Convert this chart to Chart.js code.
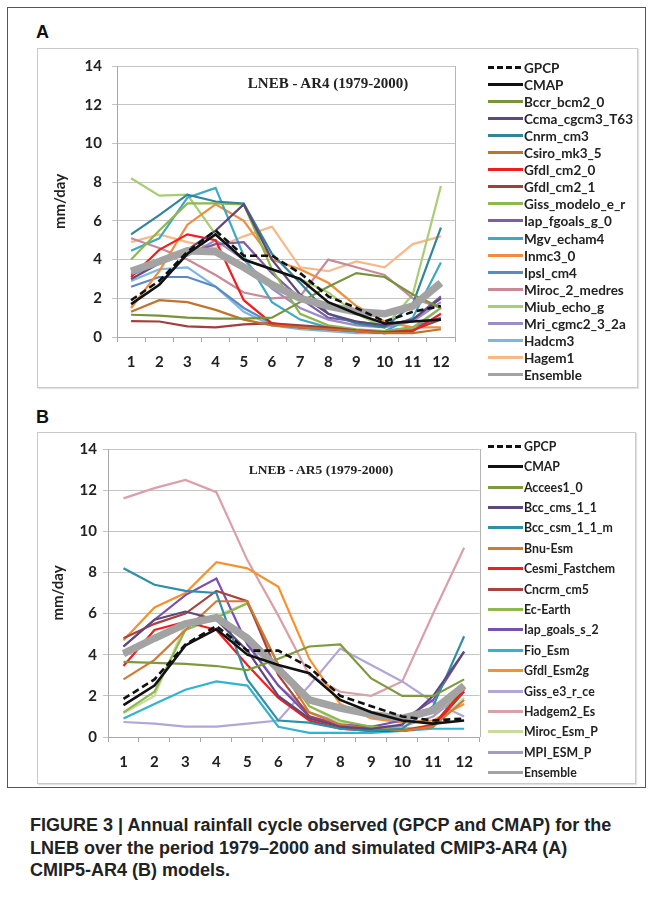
<!DOCTYPE html>
<html>
<head>
<meta charset="utf-8">
<script src="https://cdn.jsdelivr.net/npm/chart.js@4/dist/chart.umd.min.js"></script>
<style>
  html, body { margin: 0; padding: 0; background: #fff; }
  body { width: 654px; height: 901px; position: relative; overflow: hidden; font-family: Lato, "Open Sans", sans-serif; }
  .abs { position: absolute; }
  .outer { left: 7px; top: 7px; width: 639px; height: 781px; border: 1px solid #555; box-sizing: border-box; }
  .frame { border: 1px solid #c9c9c9; box-sizing: border-box; box-shadow: 1px 1px 1px #e2e2e2; }
  .plabel { font-family: "Liberation Sans", Arial, sans-serif; font-weight: bold; font-size: 18px; color: #111; }
  .ptitle { font-family: "Liberation Serif", "Times New Roman", serif; font-weight: bold; color: #222; white-space: nowrap; transform: translate(-50%, -50%); }
  .leg { font-family: Lato, sans-serif; font-weight: bold; color: #222; white-space: nowrap; }
  .leg .item { position: absolute; left: 0; height: 16px; line-height: 16px; }
  .leg .sample { position: absolute; left: 0; top: 6px; width: 35px; height: 3px; }
  .leg .txt { position: absolute; left: 36px; top: 0; }
  .caption { left: 30px; top: 814px; font-family: "Liberation Sans Narrow", "Liberation Sans", Arial, sans-serif; font-weight: bold; font-size: 18px; line-height: 22.5px; color: #222; white-space: nowrap; }
  canvas { position: absolute; }
</style>
</head>
<body>
<div class="abs outer"></div>

<div class="abs plabel" style="left:36px; top:22px;">A</div>
<div class="abs frame" style="left:37px; top:48px; width:601px; height:340px;"></div>
<canvas id="chartA" width="433" height="340" style="left:37px; top:47px;"></canvas>
<div class="abs ptitle" style="left:328px; top:83px; font-size:15px;">LNEB - AR4 (1979-2000)</div>
<div class="abs leg" id="legA" style="left:488px; top:0px; font-size:13.5px;"></div>

<div class="abs plabel" style="left:36px; top:407px;">B</div>
<div class="abs frame" style="left:37px; top:432px; width:599px; height:352px;"></div>
<canvas id="chartB" width="447" height="350" style="left:37px; top:433px;"></canvas>
<div class="abs ptitle" style="left:321px; top:470px; font-size:13.5px;">LNEB - AR5 (1979-2000)</div>
<div class="abs leg" id="legB" style="left:488px; top:0px; font-size:12.3px;"></div>

<div class="abs caption">FIGURE 3 | Annual rainfall cycle observed (GPCP and CMAP) for the<br>LNEB over the period 1979–2000 and simulated CMIP3-AR4 (A)<br>CMIP5-AR4 (B) models.</div>

<script>
// ---------- shared ----------
const months = ['1','2','3','4','5','6','7','8','9','10','11','12'];
const yTicks = [0, 2, 4, 6, 8, 10, 12, 14];

// ---------- Panel A: CMIP3-AR4 (mm/day) ----------
const gpcpA    = [1.9, 2.9, 4.4, 5.5, 4.2, 4.2, 3.3, 2.1, 1.5, 0.8, 1.3, 1.6];
const cmapA    = [1.7, 2.7, 4.3, 5.3, 4.0, 3.5, 3.0, 1.8, 1.2, 0.7, 0.8, 0.9];
const bccrA    = [1.15, 1.1, 1.0, 0.95, 0.95, 1.0, 1.8, 2.6, 3.3, 3.1, 2.2, 1.5];
const ccmaA    = [3.0, 3.8, 4.5, 5.5, 6.85, 4.0, 2.2, 1.2, 0.8, 0.6, 0.9, 2.0];
const cnrmA    = [5.3, 6.3, 7.35, 7.0, 6.9, 4.3, 2.8, 1.2, 0.7, 0.5, 1.7, 5.65];
const csiroA   = [1.3, 1.9, 1.8, 1.4, 0.9, 0.6, 0.5, 0.4, 0.3, 0.2, 0.2, 0.4];
const gfdl20A  = [3.1, 4.5, 5.3, 5.0, 1.9, 0.7, 0.5, 0.4, 0.3, 0.2, 0.3, 1.2];
const gfdl21A  = [0.82, 0.8, 0.55, 0.5, 0.65, 0.7, 0.6, 0.5, 0.35, 0.25, 0.35, 0.9];
const gissA    = [4.0, 5.5, 6.9, 6.9, 6.85, 3.5, 1.2, 0.6, 0.4, 0.3, 0.5, 1.5];
const iapA     = [3.2, 3.8, 4.3, 4.8, 4.9, 3.3, 2.0, 1.0, 0.8, 0.6, 0.9, 2.1];
const mgvA     = [4.45, 5.1, 7.2, 7.7, 4.2, 1.8, 0.9, 0.5, 0.3, 0.3, 1.0, 3.85];
const inmcA    = [1.5, 3.4, 5.8, 6.85, 6.0, 4.0, 3.5, 2.8, 1.6, 0.8, 0.5, 0.5];
const ipslA    = [2.6, 3.1, 3.1, 2.6, 1.5, 0.7, 0.5, 0.4, 0.3, 0.3, 0.5, 1.0];
const mirocA   = [5.1, 4.6, 4.0, 3.2, 2.3, 2.0, 2.1, 4.0, 3.6, 3.2, 2.0, 1.5];
const miubA    = [8.2, 7.3, 7.35, 5.3, 4.0, 3.5, 3.0, 2.3, 1.2, 0.5, 2.2, 7.8];
const mriA     = [3.3, 4.0, 4.2, 5.0, 4.0, 2.5, 1.5, 0.9, 0.6, 0.5, 0.8, 1.8];
const hadcm3A  = [2.9, 3.5, 3.6, 2.6, 1.3, 0.6, 0.4, 0.3, 0.2, 0.2, 0.4, 1.5];
const hagemA   = [4.9, 5.3, 4.9, 4.6, 5.2, 5.7, 3.6, 3.4, 3.9, 3.6, 4.8, 5.2];
const ensA     = [3.4, 3.9, 4.45, 4.4, 3.6, 2.7, 2.0, 1.6, 1.3, 1.2, 1.6, 2.8];

const namesA = ['GPCP','CMAP','Bccr_bcm2_0','Ccma_cgcm3_T63','Cnrm_cm3','Csiro_mk3_5','Gfdl_cm2_0','Gfdl_cm2_1',
  'Giss_modelo_e_r','Iap_fgoals_g_0','Mgv_echam4','Inmc3_0','Ipsl_cm4','Miroc_2_medres','Miub_echo_g',
  'Mri_cgmc2_3_2a','Hadcm3','Hagem1','Ensemble'];
const valuesA = [gpcpA, cmapA, bccrA, ccmaA, cnrmA, csiroA, gfdl20A, gfdl21A, gissA, iapA, mgvA, inmcA,
  ipslA, mirocA, miubA, mriA, hadcm3A, hagemA, ensA];
const colorsA = ['#111111','#111111','#77933C','#5F497A','#31849B','#C0722F','#F01E1E','#A0403C',
  '#8DB84C','#7B5FA8','#3FA9C4','#F28C3C','#5A8AC6','#C98A98','#A8CD72','#9A8CC4','#7FB6E0','#F8B888','#A3A3A3'];

// ---------- Panel B: CMIP5 (mm/day) ----------
const gpcpB    = [1.85, 2.8, 4.5, 5.4, 4.2, 4.2, 3.4, 2.0, 1.5, 1.0, 0.8, 0.9];
const cmapB    = [1.55, 2.5, 4.45, 5.25, 4.0, 3.5, 3.1, 1.8, 1.2, 0.8, 0.65, 0.8];
const accessB  = [3.65, 3.6, 3.55, 3.45, 3.25, 3.8, 4.4, 4.5, 2.85, 2.0, 2.0, 2.8];
const bccB     = [4.4, 5.7, 6.1, 5.7, 4.2, 2.0, 0.9, 0.5, 0.4, 0.6, 2.0, 4.15];
const bccmB    = [8.2, 7.4, 7.1, 7.0, 2.8, 0.8, 0.7, 0.4, 0.3, 0.4, 1.5, 4.9];
const bnuB     = [2.8, 3.75, 5.2, 6.6, 6.6, 3.5, 1.2, 0.6, 0.4, 0.3, 0.5, 1.8];
const cesmB    = [3.45, 5.2, 5.6, 5.2, 3.5, 1.9, 0.8, 0.4, 0.3, 0.3, 0.6, 2.3];
const cnrmB    = [4.8, 5.5, 6.0, 7.1, 6.6, 3.0, 1.0, 0.5, 0.3, 0.3, 0.5, 2.2];
const ecB      = [1.2, 2.2, 5.2, 5.8, 6.5, 3.5, 1.5, 0.8, 0.5, 0.4, 0.5, 2.5];
const iapB     = [4.4, 5.7, 6.9, 7.7, 4.5, 2.5, 1.0, 0.6, 0.5, 0.8, 1.8, 4.15];
const fioB     = [0.9, 1.6, 2.3, 2.7, 2.5, 0.5, 0.2, 0.2, 0.2, 0.3, 0.4, 0.4];
const gfdlB    = [4.7, 6.3, 7.0, 8.5, 8.2, 7.3, 3.8, 1.6, 0.9, 0.7, 0.8, 1.6];
const gissB    = [0.73, 0.65, 0.5, 0.5, 0.65, 0.8, 2.5, 4.3, 3.5, 2.7, 1.7, 1.0];
const hadgemB  = [11.6, 12.1, 12.5, 11.9, 8.6, 5.9, 3.0, 2.2, 2.0, 2.7, 6.0, 9.2];
const mirocB   = [1.15, 2.0, 5.5, 5.9, 6.5, 3.5, 1.5, 0.7, 0.4, 0.4, 0.5, 1.9];
const mpiB     = [4.0, 4.8, 5.5, 5.8, 4.6, 2.5, 1.2, 0.7, 0.5, 0.5, 1.0, 2.2];
const ensB     = [4.05, 4.8, 5.5, 5.8, 4.8, 3.3, 1.8, 1.4, 1.1, 0.9, 1.3, 2.5];

const namesB = ['GPCP','CMAP','Accees1_0','Bcc_cms_1_1','Bcc_csm_1_1_m','Bnu-Esm','Cesmi_Fastchem','Cncrm_cm5',
  'Ec-Earth','Iap_goals_s_2','Fio_Esm','Gfdl_Esm2g','Giss_e3_r_ce','Hadgem2_Es','Miroc_Esm_P','MPI_ESM_P','Ensemble'];
const valuesB = [gpcpB, cmapB, accessB, bccB, bccmB, bnuB, cesmB, cnrmB, ecB, iapB, fioB, gfdlB, gissB,
  hadgemB, mirocB, mpiB, ensB];
const colorsB = ['#111111','#111111','#7F9A3E','#5F497A','#2E8FA8','#D07A35','#F01E1E','#A8443F',
  '#8DB84C','#7A4FB0','#33B3CF','#F5922E','#B3A6D6','#D9A0A8','#C9DC9E','#A49CC2','#A3A3A3'];

// ---------- builders ----------
function buildDatasets(names, values, colors) {
  return names.map((n, i) => {
    const isEns = n === 'Ensemble';
    const isObs = n === 'GPCP' || n === 'CMAP';
    return {
      label: n,
      data: values[i],
      borderColor: colors[i],
      backgroundColor: colors[i],
      borderWidth: isEns ? 7.5 : (isObs ? 2.6 : 2.2),
      borderDash: n === 'GPCP' ? [7, 4] : [],
      pointRadius: 0,
      tension: 0,
      fill: false,
      order: n === 'GPCP' ? 0 : (n === 'CMAP' ? 1 : (isEns ? 2 : 3 + i))
    };
  });
}

const frameLine = {
  id: 'frameLine',
  beforeDatasetsDraw(chart) {
    const a = chart.chartArea, c = chart.ctx;
    c.save();
    c.strokeStyle = '#b5b5b5';
    c.lineWidth = 1;
    c.beginPath();
    c.moveTo(Math.round(a.right) + 0.5, a.top);
    c.lineTo(Math.round(a.right) + 0.5, a.bottom);
    c.stroke();
    c.restore();
  }
};

function makeChart(id, names, values, colors, g) {
  const tickFont = { family: 'Lato, sans-serif', weight: 'bold', size: 15 };
  return new Chart(document.getElementById(id), {
    type: 'line',
    data: { labels: months, datasets: buildDatasets(names, values, colors) },
    options: {
      responsive: false,
      animation: false,
      devicePixelRatio: 1,
      layout: { padding: { left: 0, top: g.top, right: g.right, bottom: 0 } },
      plugins: { legend: { display: false }, tooltip: { enabled: false } },
      scales: {
        x: {
          type: 'category',
          offset: true,
          grid: { drawOnChartArea: false, drawTicks: true, tickLength: 5, color: '#a8a8a8', offset: true },
          border: { color: '#a8a8a8' },
          ticks: { font: tickFont, color: '#222', padding: 11, maxRotation: 0, autoSkip: false },
          afterFit(s) { s.height = g.xh; }
        },
        y: {
          min: 0, max: 14,
          afterBuildTicks(s) { s.ticks = yTicks.map(v => ({ value: v })); },
          grid: { color: '#c4c4c4', tickLength: 5, drawTicks: true },
          border: { color: '#a8a8a8' },
          ticks: { font: tickFont, color: '#222', padding: g.ypad },
          title: { display: true, text: 'mm/day', font: { family: 'Lato, sans-serif', weight: 'bold', size: 15 },
                   color: '#222', padding: { top: g.tpad, bottom: 0 } },
          afterFit(s) { s.width = g.yw; }
        }
      }
    },
    plugins: [frameLine]
  });
}

function makeLegend(id, names, colors, y0, step) {
  const box = document.getElementById(id);
  names.forEach((n, i) => {
    const it = document.createElement('div');
    it.className = 'item';
    it.style.top = (y0 + i * step - 8) + 'px';
    const s = document.createElement('div');
    s.className = 'sample';
    if (n === 'GPCP') {
      s.style.background = 'repeating-linear-gradient(90deg,' + colors[i] + ' 0 6px, transparent 6px 9px)';
    } else {
      s.style.background = colors[i];
    }
    const t = document.createElement('div');
    t.className = 'txt';
    t.textContent = n;
    it.appendChild(s); it.appendChild(t);
    box.appendChild(it);
  });
}

makeChart('chartA', namesA, valuesA, colorsA, { top: 17, right: 15, xh: 50, yw: 80, ypad: 10, tpad: 14 });
makeChart('chartB', namesB, valuesB, colorsB, { top: 16, right: 4, xh: 46, yw: 71, ypad: 6, tpad: 12 });
makeLegend('legA', namesA, colorsA, 67.5, 17.1);
makeLegend('legB', namesB, colorsB, 446.7, 20.4);
</script>
</body>
</html>
